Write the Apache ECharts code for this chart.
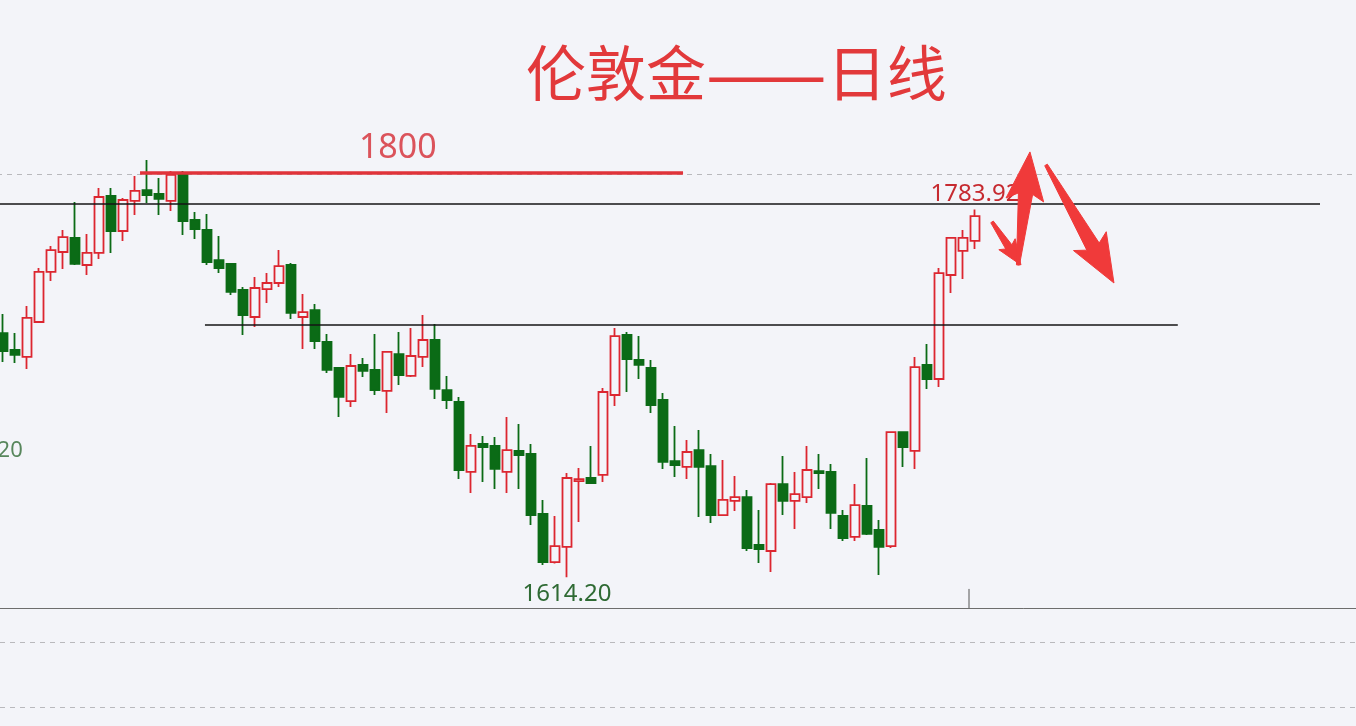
<!DOCTYPE html>
<html>
<head>
<meta charset="utf-8">
<script src="https://cdn.jsdelivr.net/npm/echarts@6/dist/echarts.min.js"></script>
<style>
html,body{margin:0;padding:0;background:#f3f4f9;overflow:hidden;width:1356px;height:726px;}
#c{position:absolute;left:-12px;top:0;width:1380px;height:726px;}
</style>
</head>
<body>
<div id="c"></div>
<script>
// ---- data ----
const opens  = [1726.9,1719.1,1715.9,1732.0,1755.1,1764.3,1770.8,1758.3,1763.9,1790.2,1774.0,1787.9,1792.9,1791.1,1787.9,1800.3,1779.1,1774.5,1760.6,1758.8,1746.8,1734.3,1747.2,1750.0,1758.3,1734.3,1737.5,1722.8,1710.8,1695.5,1712.2,1709.9,1700.2,1717.2,1707.1,1715.9,1723.7,1700.6,1695.1,1662.8,1675.7,1674.8,1662.8,1672.5,1671.1,1643.4,1621.2,1628.2,1658.6,1660.0,1661.4,1698.3,1726.0,1714.5,1710.8,1696.0,1667.8,1665.1,1672.9,1665.5,1642.9,1649.4,1651.2,1629.1,1626.3,1657.2,1649.4,1651.2,1663.2,1662.8,1642.5,1632.8,1647.1,1636.0,1628.6,1681.2,1672.5,1712.2,1705.7,1753.7,1764.8,1769.4];
const closes = [1718.6,1716.8,1733.9,1755.1,1765.2,1771.2,1758.8,1763.9,1789.7,1774.0,1788.3,1792.5,1790.6,1788.8,1799.9,1778.6,1774.9,1759.7,1756.9,1745.9,1735.2,1747.7,1750.0,1757.8,1736.2,1736.6,1723.2,1709.9,1697.4,1711.7,1709.4,1700.6,1718.2,1707.5,1716.3,1723.7,1701.1,1696.0,1663.7,1674.8,1674.3,1664.2,1672.9,1670.6,1642.9,1621.2,1628.6,1660.0,1659.5,1657.7,1699.7,1725.5,1714.9,1712.2,1693.7,1667.4,1666.0,1672.0,1665.1,1642.9,1649.9,1651.2,1627.7,1627.2,1657.2,1649.4,1652.6,1663.7,1662.3,1643.9,1632.3,1647.5,1634.2,1628.2,1681.2,1674.3,1711.2,1705.7,1754.6,1770.8,1770.8,1780.9];
const lows   = [1713.5,1713.1,1710.3,1731.5,1750.9,1756.5,1758.3,1753.7,1761.1,1763.9,1769.4,1781.4,1786.9,1781.4,1783.2,1772.2,1770.3,1758.3,1754.6,1744.5,1726.0,1729.7,1740.8,1748.2,1733.4,1719.5,1719.5,1708.5,1688.2,1692.8,1706.6,1698.3,1690.0,1702.9,1706.6,1711.2,1696.5,1691.9,1659.5,1653.1,1658.2,1654.9,1653.1,1654.9,1638.3,1619.9,1620.5,1614.2,1639.7,1657.2,1658.2,1693.2,1699.7,1705.7,1690.0,1664.2,1660.5,1659.5,1642.0,1639.2,1642.5,1644.8,1626.3,1620.8,1616.6,1642.9,1636.5,1648.5,1654.9,1636.5,1630.9,1630.9,1633.7,1615.2,1627.7,1665.1,1664.2,1701.1,1702.0,1745.4,1751.9,1765.7];
const highs  = [1735.7,1726.9,1739.4,1756.9,1767.1,1774.5,1787.4,1772.6,1793.9,1793.9,1789.2,1799.4,1806.8,1798.5,1801.7,1801.7,1782.8,1781.9,1771.7,1759.2,1748.2,1752.8,1754.6,1765.2,1759.2,1744.9,1740.3,1726.5,1711.2,1717.2,1715.4,1726.5,1718.6,1727.4,1729.2,1735.2,1731.1,1707.1,1697.4,1680.3,1679.4,1678.9,1688.2,1684.9,1675.7,1649.9,1642.5,1662.3,1664.6,1674.8,1701.5,1729.2,1727.4,1725.5,1714.5,1699.2,1684.0,1677.5,1682.2,1671.1,1668.3,1660.9,1654.5,1645.2,1657.7,1670.2,1662.8,1674.8,1671.1,1666.5,1645.2,1657.2,1669.2,1640.6,1681.2,1681.2,1715.9,1721.9,1756.9,1771.2,1774.5,1783.92];

const highMark = {index: 81, price: 1783.92, text: '1783.92'};
const lowMark  = {index: 47, price: 1614.20, text: '1614.20'};
const titleParts = ['伦敦金', '——', '日线'];
const levelText = '1800';
const edgeText = '20';

// level lines: [fromIndex, toIndex, price]
const redLevel    = [11.42, 56.67, 1800.8];
const blackLevel1 = [-0.75, 109.75, 1786.5];
const blackLevel2 = [16.83, 97.9, 1730.6];
// single axis tick mark: [index, fromPrice, toPrice]
const axisMark = [80.5, 1600, 1608.8];
// arrows: [tailIndex, tailPrice, tipIndex, tipPrice]
const arrows = [
  [82.42, 1778.2, 84.83, 1758.3],
  [84.58, 1758.3, 85.58, 1810.5],
  [86.92, 1804.5, 92.58, 1750.0]
];

// ---- chart ----
const N_CAT = 114;
const cats = [];
for (let i = 0; i < N_CAT; i++) cats.push(String(i + 1));
const kdata = opens.map((o, i) => [o, closes[i], lows[i], highs[i]]);

const BG = '#f3f4f9', RED = '#dc2630', GREEN = '#0b6b16', ARROW = '#f03a3a';

function segSeries(pts, color, width) {
  return {
    type: 'line', xAxisIndex: 1, yAxisIndex: 0, symbol: 'none', silent: true,
    data: pts, lineStyle: {color: color, width: width}, z: 5
  };
}

const option = {
  backgroundColor: BG,
  animation: false,
  title: {
    text: '{a|' + titleParts[0] + '}{d|' + titleParts[1] + '}{a|' + titleParts[2] + '}',
    left: 533, top: 33,
    textStyle: {
      rich: {
        a: {fontFamily: 'Noto Sans CJK SC', fontSize: 60, fontWeight: 'normal', color: '#e2393b', lineHeight: 70},
        d: {fontFamily: 'Noto Sans CJK SC', fontSize: 72, fontWeight: 'normal', color: '#e2393b', lineHeight: 70}
      }
    }
  },
  grid: [
    {left: 9, top: 88, width: N_CAT * 12, height: 520},
    {left: 12, right: 12, top: 642, height: 65}
  ],
  xAxis: [
    {type: 'category', data: cats, gridIndex: 0, boundaryGap: true,
     axisLine: {show: true, lineStyle: {color: '#6d6d6d', width: 1}},
     axisTick: {show: false}, axisLabel: {show: false}, splitLine: {show: false}},
    {type: 'value', gridIndex: 0, min: -0.5, max: N_CAT - 0.5, show: false},
    {type: 'category', gridIndex: 1, data: ['a', 'b'], show: false}
  ],
  yAxis: [
    {type: 'value', gridIndex: 0, min: 1600, max: 1840, interval: 200,
     axisLine: {show: false}, axisTick: {show: false}, axisLabel: {show: false},
     splitLine: {show: true, showMinLine: false, showMaxLine: false,
                 lineStyle: {type: [5, 5], color: '#b9b9bd', width: 1}}},
    {type: 'value', gridIndex: 1, min: 0, max: 1, interval: 1,
     axisLine: {show: false}, axisTick: {show: false}, axisLabel: {show: false},
     splitLine: {show: true, lineStyle: {type: [5, 5], color: '#b9b9bd', width: 1}}}
  ],
  series: [
    {
      type: 'candlestick', xAxisIndex: 0, yAxisIndex: 0, data: kdata, barWidth: 9,
      itemStyle: {color: BG, color0: GREEN, borderColor: RED, borderColor0: GREEN, borderWidth: 1.8},
      z: 3,
      markPoint: {
        symbol: 'rect', symbolSize: 1, silent: true,
        itemStyle: {color: 'rgba(0,0,0,0)'},
        data: [
          {coord: [cats[highMark.index], highMark.price],
           label: {show: true, position: 'top', distance: 3, formatter: highMark.text,
                   color: '#c62a30', fontSize: 24, fontFamily: 'Noto Sans'}},
          {coord: [cats[lowMark.index], lowMark.price],
           label: {show: true, position: 'bottom', distance: 4, formatter: lowMark.text,
                   color: '#2f6a34', fontSize: 24, fontFamily: 'Noto Sans'}}
        ]
      }
    },
    segSeries([[redLevel[0], redLevel[2]], [redLevel[1], redLevel[2]]], '#e0333a', 3.5),
    segSeries([[blackLevel1[0], blackLevel1[2]], [blackLevel1[1], blackLevel1[2]]], '#151515', 1.5),
    segSeries([[blackLevel2[0], blackLevel2[2]], [blackLevel2[1], blackLevel2[2]]], '#151515', 1.5),
    segSeries([[axisMark[0], axisMark[1]], [axisMark[0], axisMark[2]]], '#555555', 1),
    {
      type: 'scatter', xAxisIndex: 1, yAxisIndex: 0, symbolSize: 0, silent: true, z: 6,
      itemStyle: {color: 'rgba(0,0,0,0)'},
      label: {show: true, position: 'inside', formatter: '{@[2]}'},
      data: [
        {value: [32.9, 1812.3, levelText], label: {color: '#d42a33', fontSize: 34, fontFamily: 'Noto Sans'}},
        {value: [0.6, 1672.5, edgeText], label: {color: '#2f6a34', fontSize: 22, fontFamily: 'Noto Sans'}}
      ]
    },
    {
      type: 'custom', xAxisIndex: 1, yAxisIndex: 0, data: arrows, clip: false, silent: true, z: 10,
      renderItem: function (params, api) {
        const a = api.coord([api.value(0), api.value(1)]);
        const b = api.coord([api.value(2), api.value(3)]);
        const dx = b[0] - a[0], dy = b[1] - a[1];
        const len = Math.sqrt(dx * dx + dy * dy);
        const ux = dx / len, uy = dy / len, nx = -uy, ny = ux;
        const hl = Math.min(42, 0.42 * len);
        const hw = hl * 0.9;
        const sw = Math.max(6, hl * 0.34), tw = 3;
        const bx = b[0] - ux * hl, by = b[1] - uy * hl;
        const back = hl * 0.15;
        const cx = bx - ux * back, cy = by - uy * back;
        const pts = [
          [a[0] + nx * tw / 2, a[1] + ny * tw / 2],
          [bx + nx * sw / 2, by + ny * sw / 2],
          [cx + nx * hw / 2, cy + ny * hw / 2],
          [b[0], b[1]],
          [cx - nx * hw / 2, cy - ny * hw / 2],
          [bx - nx * sw / 2, by - ny * sw / 2],
          [a[0] - nx * tw / 2, a[1] - ny * tw / 2]
        ];
        return {type: 'polygon', shape: {points: pts}, style: {fill: ARROW, stroke: ARROW, lineWidth: 1}};
      }
    },
    {type: 'line', xAxisIndex: 2, yAxisIndex: 1, data: [], symbol: 'none'}
  ]
};

const chart = echarts.init(document.getElementById('c'));
chart.setOption(option);
</script>
</body>
</html>
